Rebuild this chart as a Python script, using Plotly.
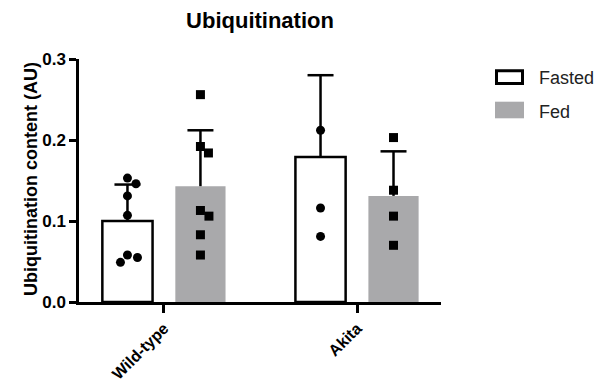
import plotly.graph_objects as go

# ---- data -----------------------------------------------------------------
categories = ["Wild-type", "Akita"]
fasted_mean = [0.100, 0.179]
fasted_sd = [0.045, 0.101]
fed_mean = [0.143, 0.131]
fed_sd = [0.069, 0.055]
fasted_points = [
    [0.153, 0.146, 0.131, 0.107, 0.058, 0.055, 0.049],
    [0.212, 0.116, 0.081],
]
fed_points = [
    [0.256, 0.192, 0.184, 0.113, 0.106, 0.083, 0.058],
    [0.203, 0.138, 0.106, 0.070],
]
y_ticks = [0.0, 0.1, 0.2, 0.3]

# ---- layout constants -------------------------------------------------------
W, H = 605, 383
M = dict(l=79, r=164, t=59, b=81)
X_RANGE = [-0.44, 1.435]
Y_RANGE = [0, 0.3]
BARGAP = 0.244
BARGROUPGAP = 0.312
GRAY = "#a9a9ab"
FONT = "Liberation Sans, Arial, sans-serif"
LW = 2.5

plot_w = W - M["l"] - M["r"]
plot_h = H - M["t"] - M["b"]
px_x = plot_w / (X_RANGE[1] - X_RANGE[0])
px_y = plot_h / (Y_RANGE[1] - Y_RANGE[0])
bar_offset = (1 - BARGAP) / 4          # centre of each bar inside its group
cap_half = 13 / px_x                   # half width of the error-bar cap


def swarm(values, diameter=10.0):
    """Spread points sideways so markers do not overlap (in pixels)."""
    cands = [0.0]
    for k in range(1, 80):
        cands += [k * 0.5, -k * 0.5]
    placed = []
    xs = [0.0] * len(values)
    for i in sorted(range(len(values)), key=lambda j: -values[j]):
        yv = values[i] * px_y
        for dx in cands:
            if all((dx - px) ** 2 + (yv - py) ** 2 >= diameter ** 2 for px, py in placed):
                break
        placed.append((dx, yv))
        xs[i] = dx / px_x
    return xs


def point_xy(groups, side):
    xs, ys = [], []
    for g, vals in enumerate(groups):
        centre = g + side * bar_offset
        for v, dx in zip(vals, swarm(vals)):
            xs.append(centre + dx)
            ys.append(v)
    return xs, ys


def error_xy(means, sds, side):
    xs, ys = [], []
    for g, (m, s) in enumerate(zip(means, sds)):
        c = g + side * bar_offset
        xs += [c, c, None, c - cap_half, c + cap_half, None]
        ys += [m, m + s, None, m + s, m + s, None]
    return xs, ys


group_x = list(range(len(categories)))

fig = go.Figure()
fig.add_trace(go.Bar(
    x=group_x, y=fasted_mean, name="Fasted",
    marker=dict(color="white", line=dict(color="black", width=LW)),
))
fig.add_trace(go.Bar(
    x=group_x, y=fed_mean, name="Fed",
    marker=dict(color=GRAY, line=dict(width=0)),
))

for means, sds, side in [(fasted_mean, fasted_sd, -1), (fed_mean, fed_sd, 1)]:
    ex, ey = error_xy(means, sds, side)
    fig.add_trace(go.Scatter(
        x=ex, y=ey, mode="lines", line=dict(color="black", width=LW),
        hoverinfo="skip", showlegend=False, cliponaxis=False,
    ))

fx, fy = point_xy(fasted_points, -1)
fig.add_trace(go.Scatter(
    x=fx, y=fy, mode="markers", showlegend=False, cliponaxis=False,
    marker=dict(symbol="circle", size=9, color="black", line=dict(width=0)),
))
gx, gy = point_xy(fed_points, 1)
fig.add_trace(go.Scatter(
    x=gx, y=gy, mode="markers", showlegend=False, cliponaxis=False,
    marker=dict(symbol="square", size=9, color="black", line=dict(width=0)),
))


def paper_x(px):
    return (px - M["l"]) / plot_w


def paper_y(py):
    return (H - M["b"] - py) / plot_h


# legend drawn as boxes + labels
shapes = [
    dict(type="rect", xref="paper", yref="paper",
         x0=paper_x(496.5), x1=paper_x(522.5), y0=paper_y(83.5), y1=paper_y(70.8),
         line=dict(color="black", width=3), fillcolor="white"),
    dict(type="rect", xref="paper", yref="paper",
         x0=paper_x(495), x1=paper_x(524), y0=paper_y(118.3), y1=paper_y(101.7),
         line=dict(width=0), fillcolor=GRAY),
]
annotations = [
    dict(text="Fasted", xref="paper", yref="paper", x=paper_x(537), y=paper_y(77.5),
         xanchor="left", yanchor="middle", showarrow=False,
         font=dict(family=FONT, size=18, color="#222")),
    dict(text="Fed", xref="paper", yref="paper", x=paper_x(537), y=paper_y(111.5),
         xanchor="left", yanchor="middle", showarrow=False,
         font=dict(family=FONT, size=18, color="#222")),
    dict(text="Ubiquitination content (AU)", xref="paper", yref="paper",
         x=paper_x(31), y=paper_y(179), textangle=-90,
         xanchor="center", yanchor="middle", showarrow=False,
         font=dict(family=FONT, size=18, color="black", weight="bold")),
]

fig.update_layout(
    width=W, height=H, margin=M,
    paper_bgcolor="white", plot_bgcolor="white",
    barmode="group", bargap=BARGAP, bargroupgap=BARGROUPGAP,
    showlegend=False,
    title=dict(text="Ubiquitination", x=paper_x(260), xref="paper",
               y=1 - 20 / H, yanchor="middle", xanchor="center",
               font=dict(family=FONT, size=22, color="black", weight="bold")),
    shapes=shapes, annotations=annotations,
    font=dict(family=FONT, color="black"),
)
fig.update_xaxes(
    range=X_RANGE, tickmode="array", tickvals=group_x, ticktext=categories,
    tickangle=-45, ticks="outside", ticklen=8, tickwidth=LW, tickcolor="black",
    showline=True, linewidth=LW, linecolor="black", showgrid=False, zeroline=False,
    automargin=False,
    tickfont=dict(family=FONT, size=16, color="black", weight="bold"),
)
fig.update_yaxes(
    range=Y_RANGE, tickmode="array", tickvals=y_ticks,
    ticktext=[f"{t:.1f}" for t in y_ticks],
    ticks="outside", ticklen=7, tickwidth=LW, tickcolor="black",
    showline=True, linewidth=LW, linecolor="black", showgrid=False, zeroline=False,
    automargin=False,
    tickfont=dict(family=FONT, size=17, color="black", weight="bold"),
)

fig.write_html("out.html")
